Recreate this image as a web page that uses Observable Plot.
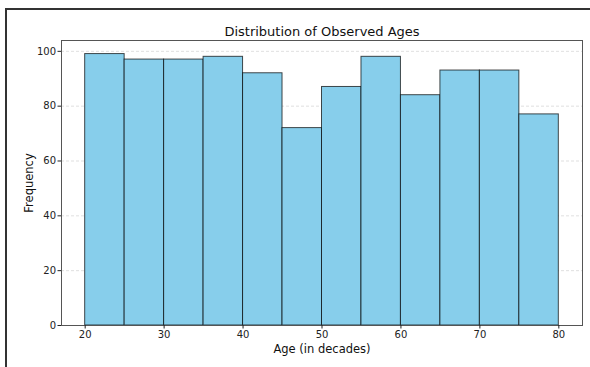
<!DOCTYPE html>
<html>
<head>
<meta charset="utf-8">
<script src="https://cdn.jsdelivr.net/npm/d3@7"></script>
<script src="https://cdn.jsdelivr.net/npm/@observablehq/plot@0.6"></script>
<style>
  html, body { margin: 0; padding: 0; background: #fff; overflow: hidden; width: 590px; height: 367px; }
  #wrap { position: relative; width: 590px; height: 367px; }
  #frame { position: absolute; left: 5px; top: 8px; width: 700px; height: 500px; border-left: 2px solid #333; border-top: 2px solid #333; pointer-events: none; }
  #chart { position: absolute; left: 0; top: 0; }
</style>
</head>
<body>
<div id="wrap"><div id="chart"></div><div id="frame"></div></div>
<script>
const binEdges = [20, 25, 30, 35, 40, 45, 50, 55, 60, 65, 70, 75, 80];
const counts = [99, 97, 97, 98, 92, 72, 87, 98, 84, 93, 93, 77];
const xTicks = [20, 30, 40, 50, 60, 70, 80];
const yTicks = [0, 20, 40, 60, 80, 100];
const title = "Distribution of Observed Ages";
const xLabel = "Age (in decades)";
const yLabel = "Frequency";

const bins = counts.map((c, i) => ({x1: binEdges[i], x2: binEdges[i + 1], count: c}));
const font = "DejaVu Sans, sans-serif";

const chart = Plot.plot({
  width: 590,
  height: 367,
  marginLeft: 61,
  marginRight: 8,
  marginTop: 40,
  marginBottom: 42,
  style: {fontFamily: font, background: "transparent"},
  x: {domain: [17, 83]},
  y: {domain: [0, 103.95]},
  marks: [
    Plot.gridY(yTicks, {stroke: "#ccc", strokeOpacity: 0.8, strokeDasharray: "3,2", strokeWidth: 0.8}),
    Plot.rectY(bins, {x1: "x1", x2: "x2", y: "count", fill: "#87CEEB", stroke: "#000", strokeOpacity: 0.7, strokeWidth: 1, inset: 0}),
    Plot.frame({stroke: "#555", strokeWidth: 1}),
    Plot.axisX({ticks: xTicks, label: null, tickSize: 3.5, tickPadding: 2, fontSize: 10, color: "#222"}),
    Plot.axisY({ticks: yTicks, label: null, tickSize: 3.5, tickPadding: 2, fontSize: 10, color: "#222"}),
    Plot.text([title], {frameAnchor: "top", dy: -14, fontSize: 13, text: d => d, fill: "#111"}),
    Plot.text([xLabel], {frameAnchor: "bottom", dy: 27, fontSize: 11.5, text: d => d, fill: "#111"}),
    Plot.text([yLabel], {frameAnchor: "left", dx: -32, rotate: -90, textAnchor: "middle", fontSize: 11.5, text: d => d, fill: "#111"})
  ]
});
document.getElementById("chart").appendChild(chart);
</script>
</body>
</html>
